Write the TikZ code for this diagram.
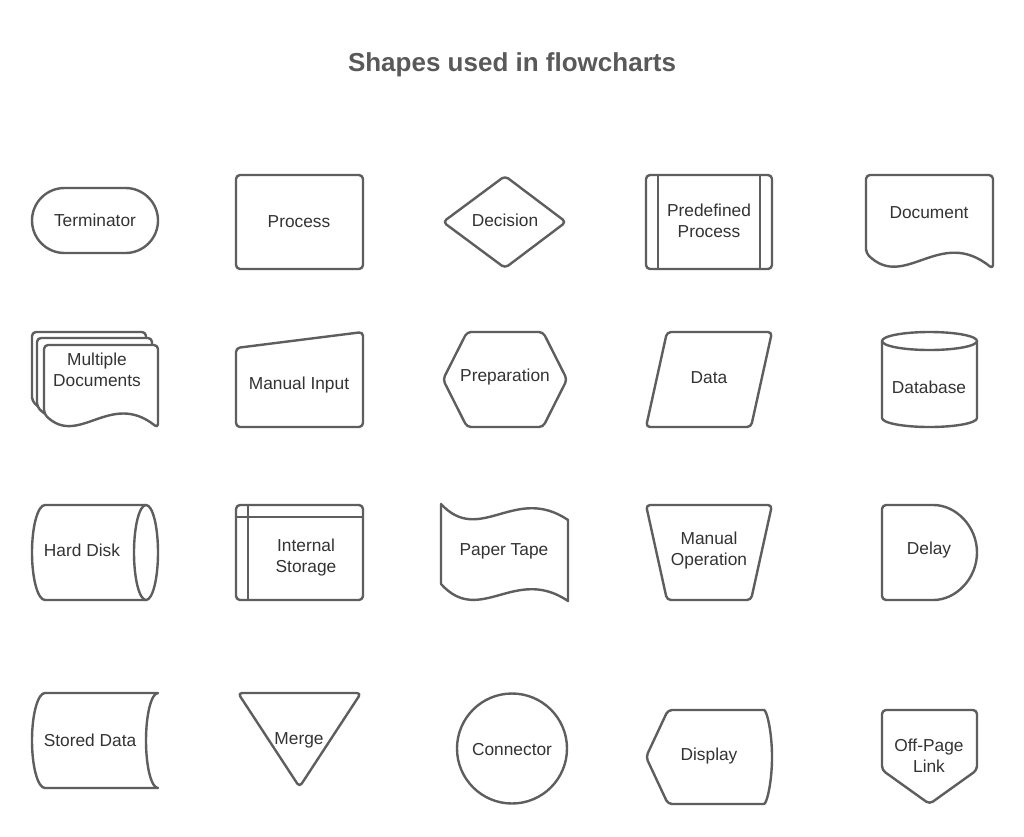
\documentclass[tikz,border=0pt]{standalone}
\usepackage{fontspec}
\setmainfont{Liberation Sans}
\definecolor{linegray}{RGB}{94,94,94}
\definecolor{textgray}{RGB}{51,51,51}
\definecolor{titlegray}{RGB}{89,89,89}
\tikzset{
  sym/.style={draw=linegray, line width=1.8pt, fill=white, line join=round},
  rc/.style={rounded corners=3pt},
  lbl/.style={text=textgray, font=\fontsize{13}{15.75}\selectfont, align=center, inner sep=0pt},
  ttl/.style={text=titlegray, font=\fontsize{19.5}{23}\selectfont\bfseries, inner sep=0pt}
}
% document outline: x, y (top left), width, height
\newcommand{\docshape}[4]{%
  \draw[sym, rc] (#1,#2+0.83*#4) -- (#1,#2) -- (#1+#3,#2) -- (#1+#3,#2+#4)
    .. controls (#1+0.583*#3,#2+0.543*#4) and (#1+0.307*#3,#2+1.234*#4) .. (#1,#2+0.83*#4) -- cycle;}
\begin{document}
\begin{tikzpicture}[x=0.75pt, y=-0.75pt]
	\path[fill=white] (0,0) rectangle (1024,836);
	\node[ttl] (title) at (512,65) {Shapes used in flowcharts};
	% row 1
	\draw[sym] (64.5,188) -- (125.5,188) arc[start angle=-90, end angle=90, radius=32.5]
		-- (64.5,253) arc[start angle=90, end angle=270, radius=32.5] -- cycle;
	\node[lbl] (term) at (95,220.5) {Terminator};
	\draw[sym, rc] (236,175) rectangle (363,269);
	\node[lbl] (proc) at (299,221.5) {Process};
	\draw[sym, rc] (505,176) -- (566,222) -- (505,268) -- (443,222) -- cycle;
	\node[lbl] (dec) at (505,220.5) {Decision};
	\draw[sym, rc] (646,175) rectangle (772,269);
	\draw[sym] (658,175) -- (658,269) (760,175) -- (760,269);
	\node[lbl] (pre) at (709,221) {Predefined\\Process};
	\docshape{866}{175}{127}{94}
	\node[lbl] (doc) at (929,212.5) {Document};
	% row 2
	\docshape{32}{332}{114}{83}
	\docshape{37}{338}{115}{83}
	\docshape{44}{345}{114}{83}
	\node[lbl] (mdoc) at (97,370) {Multiple\\Documents};
	\draw[sym, rc] (236,348) -- (363,332) -- (363,427) -- (236,427) -- cycle;
	\node[lbl] (minp) at (299,385.5) {Manual Input};
	\draw[sym, rc] (443,379.5) -- (467,332) -- (543,332) -- (567,379.5) -- (543,427) -- (467,427) -- cycle;
	\node[lbl] (prep) at (505,377.5) {Preparation};
	\draw[sym, rc] (667,332) -- (772,332) -- (751,427) -- (646,427) -- cycle;
	\node[lbl] (data) at (709,377.5) {Data};
	\draw[sym] (882,341) -- (882,418) arc[start angle=180, end angle=0, x radius=47.5, y radius=9] -- (977,341);
	\draw[sym] (929.5,341) ellipse[x radius=47.5, y radius=9];
	\node[lbl] (db) at (929,387.5) {Database};
	% row 3
	\draw[sym] (146,505) -- (45,505) arc[start angle=-90, end angle=-270, x radius=13, y radius=47.5] -- (146,600);
	\draw[sym] (146,552.5) ellipse[x radius=12, y radius=47.5];
	\node[lbl] (hd) at (82,550.5) {Hard Disk};
	\draw[sym, rc] (236,505) rectangle (363,600);
	\draw[sym] (248,505) -- (248,600) (236,517) -- (363,517);
	\node[lbl] (ist) at (306,558) {Internal\\Storage};
	\draw[sym] (441,504) .. controls (480,546) and (515,484) .. (568,520) -- (568,601)
		.. controls (515,565) and (480,627) .. (441,584) -- cycle;
	\node[lbl] (tape) at (504,551.5) {Paper Tape};
	\draw[sym, rc] (646,505) -- (772,505) -- (751,600) -- (667,600) -- cycle;
	\node[lbl] (mop) at (709,551) {Manual\\Operation};
	\draw[sym, rc] (882,600) -- (882,505) -- (929.5,505) arc[start angle=-90, end angle=90, radius=47.5] -- cycle;
	\node[lbl] (delay) at (929,550.5) {Delay};
	% row 4
	\draw[sym] (158,693) -- (45,693) arc[start angle=-90, end angle=-270, x radius=13, y radius=47.5]
		-- (158,788) arc[start angle=90, end angle=270, x radius=12, y radius=47.5] -- cycle;
	\node[lbl] (sd) at (90,740.5) {Stored Data};
	\draw[sym, rc] (238,693) -- (361,693) -- (299.5,787) -- cycle;
	\node[lbl] (merge) at (299,740.5) {Merge};
	\draw[sym] (512,748.5) circle[radius=55];
	\node[lbl] (conn) at (512,749.5) {Connector};
	\draw[sym, rc] (668,710) -- (760,710) arc[start angle=-90, end angle=90, x radius=12, y radius=47]
		-- (668,804) -- (646,757) -- cycle;
	\node[lbl] (disp) at (709,756.5) {Display};
	\draw[sym, rc] (882,710) -- (977,710) -- (977,770) -- (929.5,804) -- (882,770) -- cycle;
	\node[lbl] (opl) at (929,756) {Off-Page\\Link};
\end{tikzpicture}
\end{document}
